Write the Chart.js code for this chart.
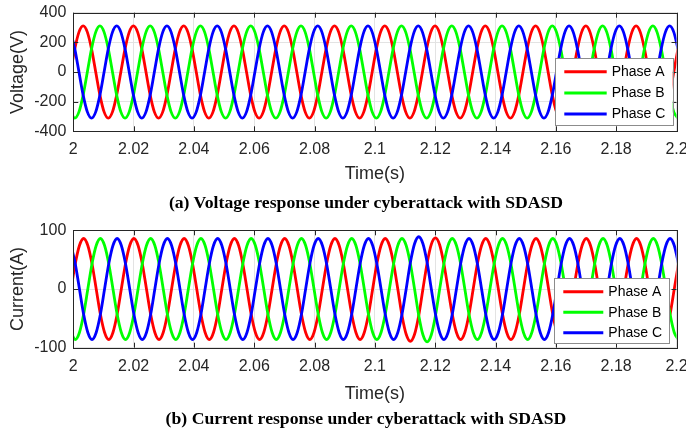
<!DOCTYPE html>
<html><head><meta charset="utf-8">
<script src="https://cdn.jsdelivr.net/npm/chart.js@4"></script>
<style>
html,body{margin:0;padding:0;background:#fff;}
#wrap{position:relative;width:686px;height:435px;overflow:hidden;background:#fff;}
canvas{position:absolute;left:0;}
.cap{position:absolute;left:0;width:732px;text-align:center;font:bold 17px 'Liberation Serif','Times New Roman',serif;color:#000;line-height:20px;white-space:nowrap;transform:scaleX(1.04);transform-origin:366px 50%;}
</style></head><body>
<div id="wrap">
<canvas id="cv" width="686" height="218" style="top:0"></canvas>
<canvas id="ci" width="686" height="217" style="top:218px"></canvas>
<div class="cap" style="top:193px">(a) Voltage response under cyberattack with SDASD</div>
<div class="cap" style="top:409px">(b) Current response under cyberattack with SDASD</div>
</div>
<script>
// ---- data ----
const seriesNames = ['Phase A', 'Phase B', 'Phase C'];
const xTicks = [2, 2.02, 2.04, 2.06, 2.08, 2.1, 2.12, 2.14, 2.16, 2.18, 2.2];
const xTickLabels = ['2', '2.02', '2.04', '2.06', '2.08', '2.1', '2.12', '2.14', '2.16', '2.18', '2.2'];
const voltTicks = [-400, -200, 0, 200, 400];
const currTicks = [-100, 0, 100];
// sampling instants: every 1/12 of a 60 Hz cycle, first sample at the Phase A rising zero crossing
const tStartV = 1.99910, tStartI = 1.99926, tStep = 1 / 720;

const voltA = [
0,156,269,311,269,156,0,-156,-269,-311,-269,-156,
0,156,269,311,269,156,0,-156,-269,-311,-269,-156,
0,156,269,311,269,156,0,-156,-269,-311,-269,-156,
0,156,269,311,269,156,0,-156,-269,-311,-269,-156,
0,156,269,311,269,156,0,-156,-269,-311,-269,-156,
0,156,269,311,269,156,0,-156,-269,-311,-269,-156,
0,156,269,311,269,156,0,-156,-269,-311,-269,-156,
0,156,269,311,269,156,0,-156,-269,-311,-269,-156,
0,156,269,311,269,156,0,-156,-269,-311,-269,-156,
0,156,269,311,269,156,0,-156,-269,-311,-269,-156,
0,156,269,311,269,156,0,-156,-269,-311,-269,-156,
0,156,269,311,269,156,0,-156,-269,-311,-269,-156,
0,156];
const voltB = [
-269,-311,-269,-156,0,156,269,311,269,156,0,-156,
-269,-311,-269,-156,0,156,269,311,269,156,0,-156,
-269,-311,-269,-156,0,156,269,311,269,156,0,-156,
-269,-311,-269,-156,0,156,269,311,269,156,0,-156,
-269,-311,-269,-156,0,156,269,311,269,156,0,-156,
-269,-311,-269,-156,0,156,269,311,269,156,0,-156,
-269,-311,-269,-156,0,156,269,311,269,156,0,-156,
-269,-311,-269,-156,0,156,269,311,269,156,0,-156,
-269,-311,-269,-156,0,156,269,311,269,156,0,-156,
-269,-311,-269,-156,0,156,269,311,269,156,0,-156,
-269,-311,-269,-156,0,156,269,311,269,156,0,-156,
-269,-311,-269,-156,0,156,269,311,269,156,0,-156,
-269,-311];
const voltC = [
269,156,0,-156,-269,-311,-269,-156,0,156,269,311,
269,156,0,-156,-269,-311,-269,-156,0,156,269,311,
269,156,0,-156,-269,-311,-269,-156,0,156,269,311,
269,156,0,-156,-269,-311,-269,-156,0,156,269,311,
269,156,0,-156,-269,-311,-269,-156,0,156,269,311,
269,156,0,-156,-269,-311,-269,-156,0,156,269,311,
269,156,0,-156,-269,-311,-269,-156,0,156,269,311,
269,156,0,-156,-269,-311,-269,-156,0,156,269,311,
269,156,0,-156,-269,-311,-269,-156,0,156,269,311,
269,156,0,-156,-269,-311,-269,-156,0,156,269,311,
269,156,0,-156,-269,-311,-269,-156,0,156,269,311,
269,156,0,-156,-269,-311,-269,-156,0,156,269,311,
269,156];

const currA = [
0,43,74,86,74,43,0,-43,-74,-86,-74,-43,
0,43,74,86,74,43,0,-43,-74,-86,-74,-43,
0,43,74,86,74,43,0,-43,-74,-86,-74,-43,
0,43,74,86,74,43,0,-43,-74,-86,-74,-43,
0,43,74,86,74,43,0,-43,-74,-86,-74,-43,
0,43,74,86,74,43,0,-43,-74,-86,-74,-43,
0,43,74,86,74,43,0,-45,-77,-89,-77,-45,
0,44,76,87,75,43,0,-43,-74,-86,-74,-43,
0,43,74,86,74,43,0,-43,-74,-86,-74,-43,
0,43,74,86,74,43,0,-43,-74,-86,-74,-43,
0,43,74,86,74,43,0,-43,-74,-86,-74,-43,
0,43,74,86,74,43,0,-43,-74,-86,-74,-43,
0,43];
const currB = [
-74,-86,-74,-43,0,43,74,86,74,43,0,-43,
-74,-86,-74,-43,0,43,74,86,74,43,0,-43,
-74,-86,-74,-43,0,43,74,86,74,43,0,-43,
-74,-86,-74,-43,0,43,74,86,74,43,0,-43,
-74,-86,-74,-43,0,43,74,86,74,43,0,-43,
-74,-86,-74,-43,0,43,74,86,74,43,0,-43,
-74,-86,-74,-43,0,43,74,86,74,43,0,-45,
-78,-90,-78,-45,0,43,74,86,74,43,0,-43,
-74,-86,-74,-43,0,43,74,86,74,43,0,-43,
-74,-86,-74,-43,0,43,74,86,74,43,0,-43,
-74,-86,-74,-43,0,43,74,86,74,43,0,-43,
-74,-86,-74,-43,0,43,74,86,74,43,0,-43,
-74,-86];
const currC = [
74,43,0,-43,-74,-86,-74,-43,0,43,74,86,
74,43,0,-43,-74,-86,-74,-43,0,43,74,86,
74,43,0,-43,-74,-86,-74,-43,0,43,74,86,
74,43,0,-43,-74,-86,-74,-43,0,43,74,86,
74,43,0,-43,-74,-86,-74,-43,0,43,74,86,
74,43,0,-43,-74,-86,-74,-43,0,43,74,86,
74,43,0,-43,-74,-86,-74,-43,0,45,77,89,
77,45,0,-43,-74,-86,-74,-43,0,43,74,86,
74,43,0,-43,-74,-86,-74,-43,0,43,74,86,
74,43,0,-43,-74,-86,-74,-43,0,43,74,86,
74,43,0,-43,-74,-86,-74,-43,0,43,74,86,
74,43,0,-43,-74,-86,-74,-43,0,43,74,86,
74,43];

const timeV = voltA.map((_, k) => tStartV + k * tStep);
const timeI = currA.map((_, k) => tStartI + k * tStep);

// ---- drawing ----
const FONT = "'Liberation Sans', Arial, Helvetica, sans-serif";
const TXT = '#262626';
const colors = ['#ff0000', '#00ff00', '#0000ff'];

const framePlugin = {
  id: 'frame',
  afterDraw(chart, args, opts) {
    const {ctx, chartArea: a, scales: {x, y}} = chart;
    ctx.save();
    ctx.strokeStyle = TXT; ctx.lineWidth = 1;
    ctx.beginPath();
    x.ticks.forEach(t => {
      const px = Math.round(x.getPixelForValue(t.value)) + 0.5;
      ctx.moveTo(px, a.bottom); ctx.lineTo(px, a.bottom - 5);
      ctx.moveTo(px, a.top); ctx.lineTo(px, a.top + 5);
    });
    y.ticks.forEach(t => {
      const py = Math.round(y.getPixelForValue(t.value)) + 0.5;
      ctx.moveTo(a.left, py); ctx.lineTo(a.left + 5, py);
      ctx.moveTo(a.right, py); ctx.lineTo(a.right - 5, py);
    });
    ctx.stroke();
    ctx.strokeRect(Math.round(a.left) + 0.5, Math.round(a.top) + 0.5,
      Math.round(a.right) - Math.round(a.left), Math.round(a.bottom) - Math.round(a.top));
    const L = opts.box;
    ctx.fillStyle = '#fff';
    ctx.fillRect(L.x, L.y, L.w, L.h);
    ctx.strokeStyle = '#8c8c8c'; ctx.lineWidth = 1;
    ctx.strokeRect(Math.round(L.x) + 0.5, Math.round(L.y) + 0.5, Math.round(L.w), Math.round(L.h));
    ctx.font = '14px ' + FONT;
    ctx.textBaseline = 'middle'; ctx.textAlign = 'left';
    chart.data.datasets.forEach((d, i) => {
      const yy = L.y + L.row0 + i * L.rowH;
      ctx.strokeStyle = d.borderColor; ctx.lineWidth = 3;
      ctx.beginPath(); ctx.moveTo(L.x + L.l0, yy); ctx.lineTo(L.x + L.l1, yy); ctx.stroke();
      ctx.fillStyle = '#000';
      ctx.fillText(d.label, L.x + L.tx, yy + 0.5);
    });
    ctx.restore();
  }
};

function makeChart(id, time, series, yTicks, yTitle, legendBox, padTop, xHeight, canvasH, plotBottom) {
  return new Chart(document.getElementById(id), {
    type: 'line',
    data: {
      labels: time,
      datasets: series.map((s, i) => ({
        label: seriesNames[i], data: s, borderColor: colors[i], backgroundColor: colors[i], order: 2 - i
      }))
    },
    options: {
      responsive: false, animation: false, devicePixelRatio: 1,
      layout: {padding: {left: 0, right: 9.5, top: padTop, bottom: canvasH - plotBottom - xHeight}},
      elements: {
        point: {radius: 0, hoverRadius: 0},
        line: {borderWidth: 2.8, cubicInterpolationMode: 'monotone', fill: false}
      },
      datasets: {line: {clip: {left: 0, right: 0, top: 4, bottom: 4}}},
      plugins: {legend: {display: false}, tooltip: {enabled: false}, frame: {box: legendBox}},
      scales: {
        x: {
          type: 'linear', min: 2, max: 2.2,
          afterBuildTicks: s => { s.ticks = xTicks.map(v => ({value: v})); },
          afterFit: s => { s.height = xHeight; s.paddingLeft = 0; s.paddingRight = 0; },
          grid: {color: '#e3e3e3', lineWidth: 1, drawTicks: false},
          border: {display: false},
          ticks: {autoSkip: false, maxRotation: 0, minRotation: 0, padding: 9, color: TXT,
                  font: {size: 16, family: FONT}, callback: (v, i) => xTickLabels[i]},
          title: {display: true, text: 'Time(s)', color: TXT, font: {size: 18, family: FONT}, padding: 0}
        },
        y: {
          type: 'linear', min: yTicks[0], max: yTicks[yTicks.length - 1],
          afterBuildTicks: s => { s.ticks = yTicks.map(v => ({value: v})); },
          afterFit: s => { s.width = 73.3; s.paddingTop = 0; s.paddingBottom = 0; },
          grid: {color: '#e3e3e3', lineWidth: 1, drawTicks: false},
          border: {display: false},
          ticks: {padding: 7, color: TXT, font: {size: 16, family: FONT}, callback: v => String(v)},
          title: {display: true, text: yTitle, color: TXT, font: {size: 18, family: FONT}, padding: {top: 7, bottom: 0}}
        }
      }
    },
    plugins: [framePlugin]
  });
}

makeChart('cv', timeV, [voltA, voltB, voltC], voltTicks, 'Voltage(V)',
  {x: 555, y: 58.3, w: 117.7, h: 66.7, row0: 13.4, rowH: 21.2, l0: 9.3, l1: 51.7, tx: 56.7}, 12.7, 53.8, 218, 131.3);
makeChart('ci', timeI, [currA, currB, currC], currTicks, 'Current(A)',
  {x: 554.3, y: 60.3, w: 114.7, h: 65, row0: 13.4, rowH: 20.5, l0: 9, l1: 49, tx: 54}, 12.3, 56.8, 217, 129.7);
</script>
</body></html>
